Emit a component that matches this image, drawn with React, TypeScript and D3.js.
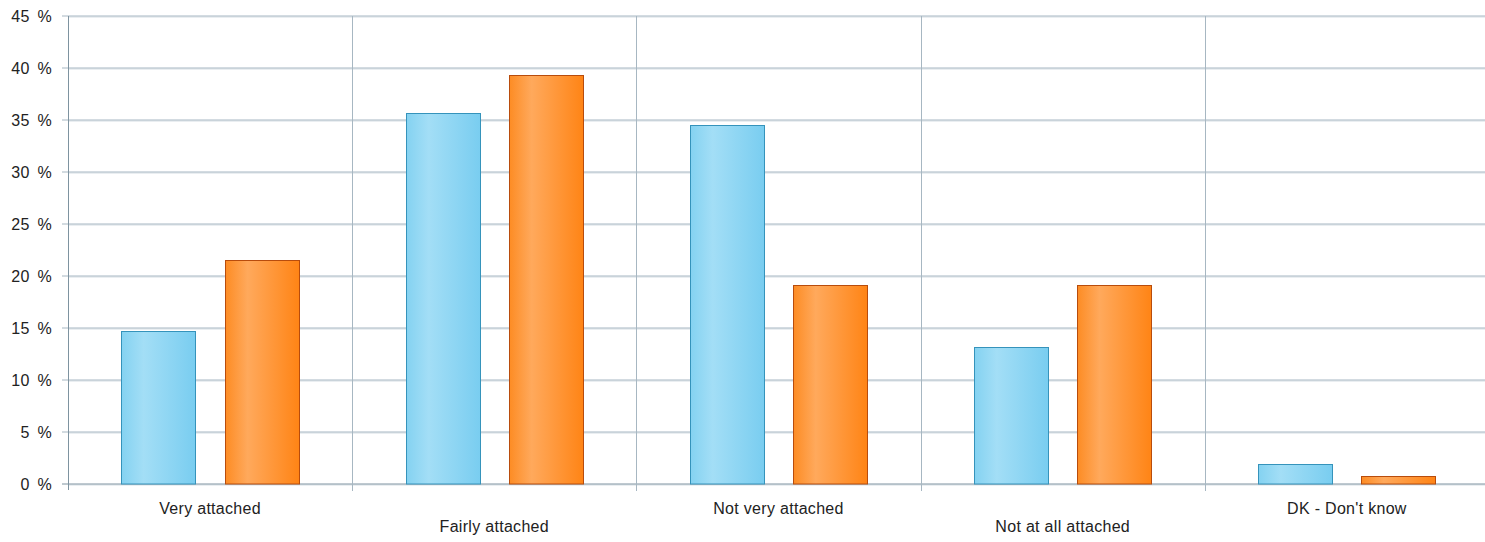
import React from "react";
import * as d3 from "d3";

const categories = ["Very attached", "Fairly attached", "Not very attached", "Not at all attached", "DK - Don't know"];
const seriesA = [14.7, 35.7, 34.5, 13.2, 1.9];
const seriesB = [21.5, 39.3, 19.1, 19.1, 0.8];
const yTicks = [0, 5, 10, 15, 20, 25, 30, 35, 40, 45];

const W = 1485, H = 542;
const m = { left: 68, right: -4, top: 16, bottom: 58 };

export default function App() {
  const x = d3.scaleBand<string>().domain(categories).range([m.left, W - m.right]).paddingInner(0).paddingOuter(0);
  const y = d3.scaleLinear().domain([0, 45]).range([H - m.bottom, m.top]);
  const bw = x.bandwidth();
  const inner = d3.scaleBand<string>().domain(["a", "b"]).range([0, bw]).paddingInner(0.28).paddingOuter(0.518);
  const barW = inner.bandwidth();
  const font = "'Liberation Sans', Arial, sans-serif";
  const y0 = y(0);
  const boundaries = categories.map((c) => x(c)!).concat([x(categories[categories.length - 1])! + bw]);

  return (
    <svg width={W} height={H} style={{ position: "absolute", left: 0, top: 0, background: "#fff" }}>
      <defs>
        <linearGradient id="gA" x1="0" x2="1" y1="0" y2="0">
          <stop offset="0" stopColor="#84d2f1" />
          <stop offset="0.3" stopColor="#a3def6" />
          <stop offset="1" stopColor="#79cdf0" />
        </linearGradient>
        <linearGradient id="gB" x1="0" x2="1" y1="0" y2="0">
          <stop offset="0" stopColor="#fd8c24" />
          <stop offset="0.3" stopColor="#ffa95c" />
          <stop offset="1" stopColor="#ff8415" />
        </linearGradient>
      </defs>
      {yTicks.map((t) => (
        <g key={t}>
          <line x1={m.left} x2={W} y1={y(t) + 1} y2={y(t) + 1} stroke="#d6dee4" strokeWidth={1} />
          <line x1={m.left - 6} x2={W} y1={y(t)} y2={y(t)} stroke={t === 0 ? "#7e93a0" : "#a7b7c2"} strokeWidth={1} />
          <text x={52} y={y(t)} dy="0.35em" textAnchor="end" fontFamily={font} fontSize={16} letterSpacing={0.3} wordSpacing={3} fill="#222">
            {t} %
          </text>
        </g>
      ))}
      {boundaries.map((b, i) => (
        <line key={i} x1={Math.round(b) + 0.5} x2={Math.round(b) + 0.5} y1={m.top} y2={y0 + (i === 0 ? 6 : 7)} stroke={i === 0 ? "#7e93a0" : "#a7b7c2"} strokeWidth={1} />
      ))}
      {categories.map((c, i) => {
        const bx = x(c)!;
        const vals = [seriesA[i], seriesB[i]];
        return (
          <g key={c}>
            {vals.map((v, j) => {
              const k = j === 0 ? "a" : "b";
              const xx = Math.round(bx + inner(k)!) + 0.5;
              const yy = Math.round(y(v)) + 0.5;
              return (
                <rect key={k} x={xx} y={yy} width={Math.round(barW)} height={y0 - yy} fill={j === 0 ? "url(#gA)" : "url(#gB)"} stroke={j === 0 ? "#3593bb" : "#b84c0c"} strokeWidth={1} />
              );
            })}
            <text x={bx + bw / 2} y={i % 2 === 0 ? 508 : 526} dy="0.35em" textAnchor="middle" fontFamily={font} fontSize={16} letterSpacing={0.3} fill="#222">
              {c}
            </text>
          </g>
        );
      })}
    </svg>
  );
}
